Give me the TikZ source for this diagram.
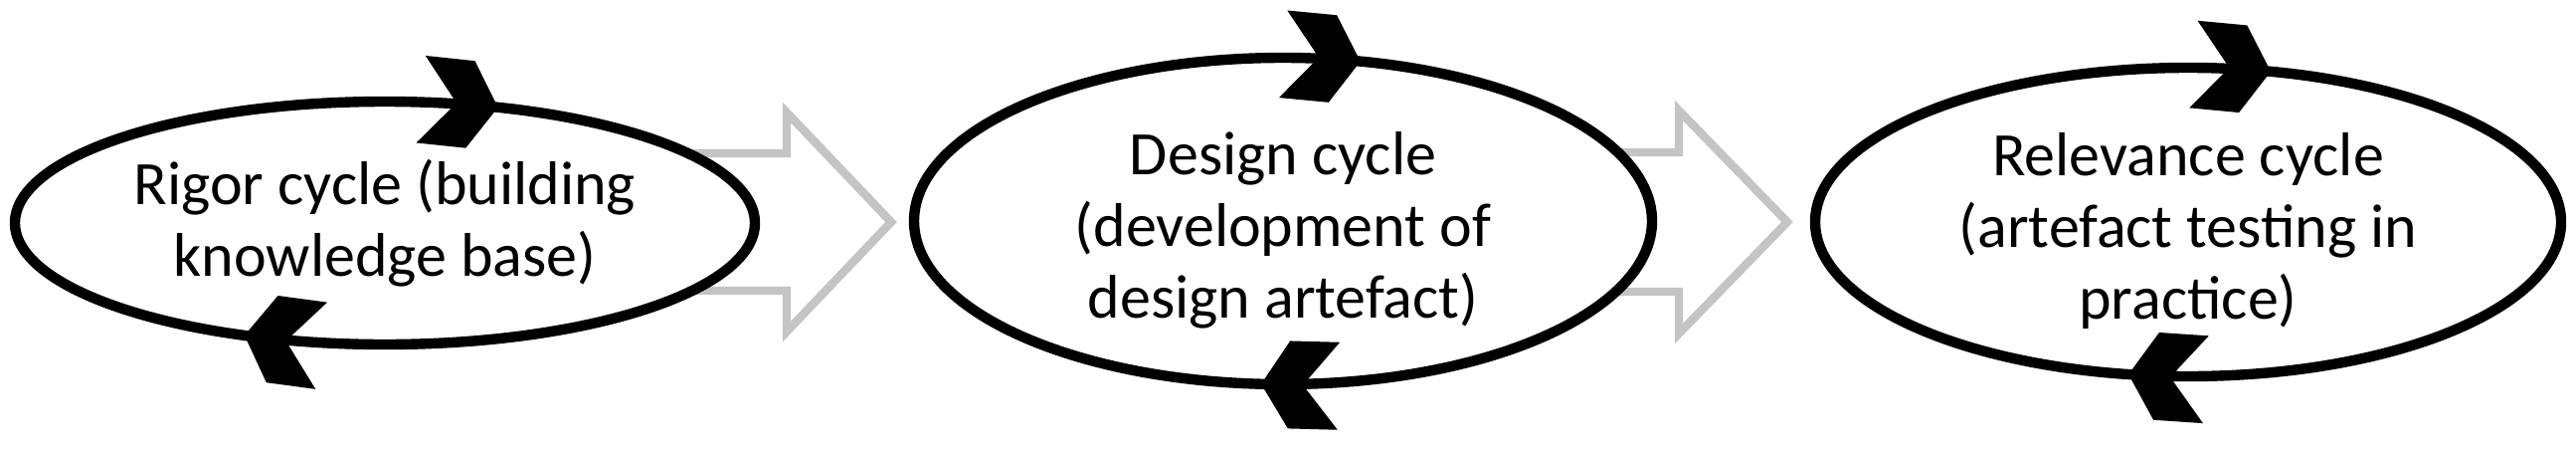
\documentclass[tikz,border=0pt]{standalone}
\usepackage{fontspec}
\setmainfont{Carlito}
\usetikzlibrary{shapes.geometric,calc}
\newcommand\cyclemark[4]{% #1 node, #2 rx, #3 ry, #4 parameter angle
  \begin{scope}[shift={($(#1.center)+({#2*cos(#4)},{#3*sin(#4)})$)},
                rotate={atan2(-#3*cos(#4),#2*sin(#4))}]
    \fill[chev] (0,0) -- (-28,44) -- (-78,44) -- (-42,0) -- (-78,-44) -- (-28,-44) -- cycle;
  \end{scope}}
\begin{document}
\begin{tikzpicture}[x=0.5pt,y=0.5pt,
  cyc/.style={ellipse, draw=black, line width=5.2pt, fill=white, inner sep=0pt},
  txt/.style={align=center, inner sep=0pt, font=\fontsize{31}{36}\selectfont},
  blk/.style={draw=black!23, line width=4.2pt, fill=white, line join=miter},
  chev/.style={fill=black}]
\useasboundingbox (0,0) rectangle (2590,452);

% grey block arrows (behind the ellipses)
\coordinate (a1) at (896,229);
\draw[blk] (a1) -- ++(-105,110) -- ++(0,-41) -- ++(-120,0) -- ++(0,-138)
  -- ++(120,0) -- ++(0,-41) -- cycle;
\coordinate (a2) at (1797,229);
\draw[blk] (a2) -- ++(-109,112) -- ++(0,-42) -- ++(-120,0) -- ++(0,-140)
  -- ++(120,0) -- ++(0,-42) -- cycle;

% cycles
\node[cyc, minimum width=372pt, minimum height=122pt] (e1) at (387,228) {};
\node[cyc, minimum width=371pt, minimum height=164pt] (e2) at (1290,230) {};
\node[cyc, minimum width=375pt, minimum height=155pt] (e3) at (2200,229) {};

\node[txt] (t1) at ($(e1.center)+(0,0)$) {Rigor cycle (building\\knowledge base)};
\node[txt] (t2) at ($(e2.center)+(0,-9)$) {Design cycle\\(development of\\design artefact)};
\node[txt] (t3) at ($(e3.center)+(0,-9)$) {Relevance cycle\\(artefact testing in\\practice)};

% direction marks
\cyclemark{e1}{372}{122}{72.2}
\cyclemark{e1}{372}{122}{247.7}
\cyclemark{e2}{371}{164}{77.9}
\cyclemark{e2}{371}{164}{266.6}
\cyclemark{e3}{375}{155}{77.2}
\cyclemark{e3}{375}{155}{260.8}
\end{tikzpicture}
\end{document}
